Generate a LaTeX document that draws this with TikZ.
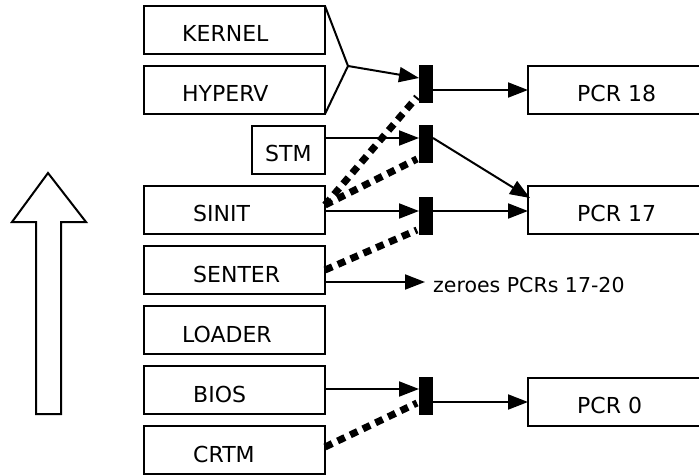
\documentclass[tikz,border=0pt]{standalone}
\usepackage{fontspec}
\setmainfont{DejaVu Sans}
\usetikzlibrary{arrows.meta,calc}
\begin{document}
\begin{tikzpicture}[x=1pt,y=-1pt,
  box/.style={draw,line width=2pt,rectangle,inner sep=0pt,outer sep=0pt},
  openbox/.style={rectangle,inner sep=0pt,outer sep=0pt},
  bar/.style={fill=black,rectangle,inner sep=0pt,outer sep=0pt,minimum width=14pt,minimum height=38pt},
  txt/.style={anchor=base west,inner sep=0pt,font=\fontsize{22}{22}\selectfont},
  conn/.style={line width=2pt},
  arr/.style={conn,-{Triangle[length=20pt,width=15pt]}},
  dsh/.style={line width=7pt,dash pattern=on 8pt off 6pt}]
\useasboundingbox (0,0) rectangle (699,476);
% big arrow
\draw[line width=2pt,line join=miter] (48,173) -- (86,222) -- (61,222) -- (61,414) -- (36,414) -- (36,222) -- (12,222) -- cycle;
% left boxes
\node[box,minimum width=181pt,minimum height=48pt] (kernel) at (234.5,30) {};
\node[box,minimum width=181pt,minimum height=48pt] (hyperv) at (234.5,90) {};
\node[box,minimum width=73pt,minimum height=48pt] (stm) at (288.5,150) {};
\node[box,minimum width=181pt,minimum height=48pt] (sinit) at (234.5,210) {};
\node[box,minimum width=181pt,minimum height=48pt] (senter) at (234.5,270) {};
\node[box,minimum width=181pt,minimum height=48pt] (loader) at (234.5,330) {};
\node[box,minimum width=181pt,minimum height=48pt] (bios) at (234.5,390) {};
\node[box,minimum width=181pt,minimum height=48pt] (crtm) at (234.5,450) {};
\node[txt] (tkernel) at (182,42) {KERNEL};
\node[txt] (thyperv) at (182,102) {HYPERV};
\node[txt] (tstm) at (265,162) {STM};
\node[txt] (tsinit) at (193,222) {SINIT};
\node[txt] (tsenter) at (193,282) {SENTER};
\node[txt] (tloader) at (182,342) {LOADER};
\node[txt] (tbios) at (193,402) {BIOS};
\node[txt] (tcrtm) at (193,462) {CRTM};
% bars
\node[bar] (bar1) at (426,84) {};
\node[bar] (bar2) at (426,144) {};
\node[bar] (bar3) at (426,216) {};
\node[bar] (bar4) at (426,396) {};
% PCR boxes (open to the right)
\node[openbox,minimum width=172pt,minimum height=48pt] (pcr18) at (614,90) {};
\node[openbox,minimum width=172pt,minimum height=48pt] (pcr17) at (614,210) {};
\node[openbox,minimum width=172pt,minimum height=48pt] (pcr0) at (614,402) {};
\foreach \p in {pcr18,pcr17,pcr0}
  \draw[line width=2pt] (\p.north east) -- (\p.north west) -- (\p.south west) -- (\p.south east);
\node[txt] (t18) at (577,102) {PCR 18};
\node[txt] (t17) at (577,222) {PCR 17};
\node[txt] (t0) at (577,413) {PCR 0};
\node[txt,font=\fontsize{20.5}{20.5}\selectfont] (tzero) at (433,292) {zeroes PCRs 17-20};
% fan from KERNEL/HYPERV
\coordinate (fan) at (348,66);
\draw[conn,line join=miter] (kernel.north east) -- (fan) -- (hyperv.south east);
\draw[arr] (fan) -- ($(bar1.north west)+(0,13)$);
% solid arrows into bars
\draw[arr] (stm.east |- 0,138) -- (bar2.west |- 0,138);
\draw[arr] (sinit.east |- 0,211) -- (bar3.west |- 0,211);
\draw[arr] (bios.east |- 0,389) -- (bar4.west |- 0,389);
\coordinate (zend) at (425,282);
\draw[arr] (senter.east |- zend) -- (zend);
% dashed
\draw[dsh] (sinit.east |- 0,205) -- ($(bar1.south west)+(-2,-6)$);
\draw[dsh] (sinit.east |- 0,205) -- ($(bar2.south west)+(-2,-4)$);
\draw[dsh] (senter.east |- 0,270) -- ($(bar3.south west)+(-2,-5)$);
\draw[dsh] (crtm.east |- 0,447) -- ($(bar4.south west)+(-2,-12)$);
% bar outputs
\draw[arr] (bar1.east |- pcr18.west) -- (pcr18.west);
\draw[arr] (bar2.east |- 0,138) -- ($(pcr17.north west)+(2,12)$);
\draw[arr] (bar3.east |- 0,211) -- (pcr17.west |- 0,211);
\draw[arr] (bar4.east |- pcr0.west) -- (pcr0.west);
\end{tikzpicture}
\end{document}
